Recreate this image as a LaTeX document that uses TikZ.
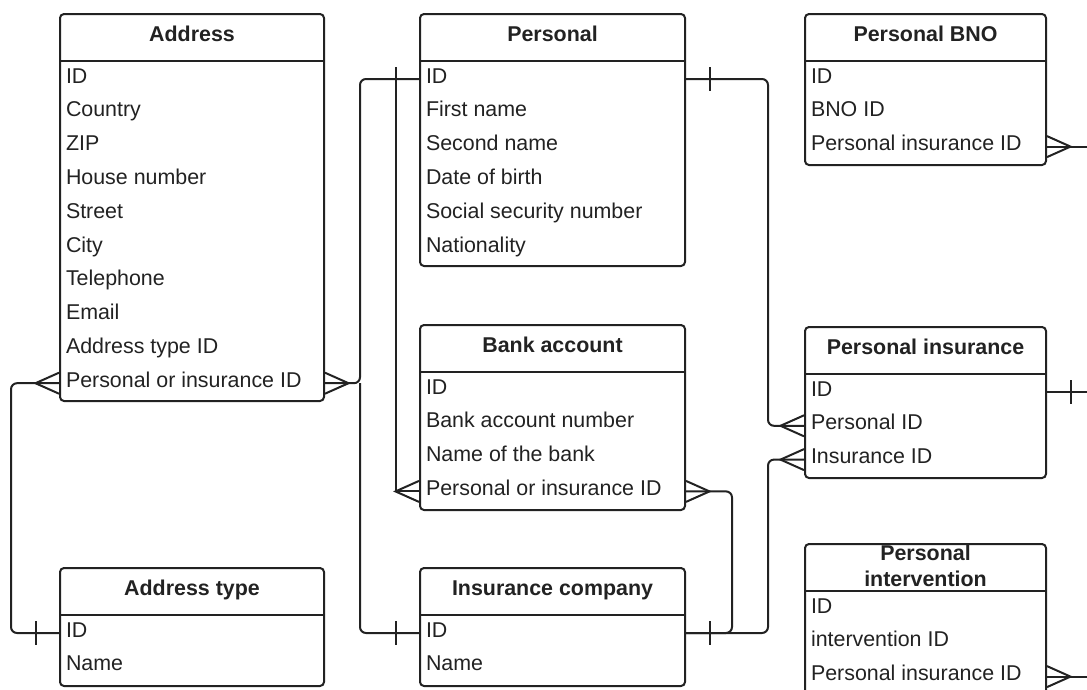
\documentclass[tikz,border=0pt]{standalone}
\usepackage{fontspec}
\setmainfont{Liberation Sans}
\usetikzlibrary{calc}
\definecolor{ink}{HTML}{222222}
\tikzset{
  ebox/.style={draw=ink, line width=2pt, rounded corners=4pt, fill=white, inner sep=0pt},
  divider/.style={draw=ink, line width=2pt},
  etitle/.style={font=\fontsize{21.4pt}{23pt}\selectfont\bfseries, text=ink, inner sep=0pt},
  erow/.style={font=\fontsize{21.4pt}{23pt}\selectfont, text=ink, inner sep=0pt},
  conn/.style={draw=ink, line width=2pt, rounded corners=6pt},
  tipline/.style={draw=ink, line width=2pt, line join=miter},
}
% entity box: #1 name, #2 left, #3 top, #4 width, #5 height
\newcommand\entbox[5]{%
  \node[ebox, minimum width=#4pt, minimum height=#5pt, anchor=north west] (#1) at (#2,#3) {};
  \draw[divider] ([yshift=-48pt]#1.north west) -- ([yshift=-48pt]#1.north east);
}
\newcommand\enttitle[2]{%
  \node[etitle, anchor=base] (#1-title) at ($(#1.north)+(0,28.8)$) {#2};
}
\newcommand\entrows[2]{%
  \foreach \t [count=\i from 0] in {#2} {
    \coordinate (#1-\i) at ($(#1.north west)+(0,48+33.8*\i+18)$);
    \node[erow, anchor=base west] (#1-t\i) at ($(#1.north west)+(6.8,48+33.8*\i+22)$) {\t};
  }
}
% crow's foot: #1 point on box edge, #2 direction (1 right, -1 left)
\newcommand\crowfoot[2]{%
  \draw[tipline] ($#1+(0,-10.5)$) -- ($#1+(#2*23.5,0)$) -- ($#1+(0,10.5)$);
}
% single bar: #1 point on box edge, #2 direction
\newcommand\onebar[2]{%
  \draw[tipline] ($#1+(#2*23.5,-12)$) -- ($#1+(#2*23.5,12)$);
}
\begin{document}
\begin{tikzpicture}[x=1pt,y=-1pt]
\useasboundingbox (0,0) rectangle (1087,689);
\clip (0,0) rectangle (1087,689);

% lanes for connectors
\coordinate (laneA) at (11,0);
\coordinate (laneB) at (360,0);
\coordinate (laneC) at (396,0);
\coordinate (laneE) at (732,0);
\coordinate (laneD) at (768,0);
\coordinate (edge) at (1095,0);

% entities
\entbox{addr}{59}{13}{264}{387}
\enttitle{addr}{Address}
\entrows{addr}{ID,Country,ZIP,House number,Street,City,Telephone,Email,Address type ID,Personal or insurance ID}

\entbox{pers}{419}{13}{265}{252}
\enttitle{pers}{Personal}
\entrows{pers}{ID,First name,Second name,Date of birth,Social security number,Nationality}

\entbox{bno}{804}{13}{241}{151}
\enttitle{bno}{Personal BNO}
\entrows{bno}{ID,BNO ID,Personal insurance ID}

\entbox{bank}{419}{324}{265}{185}
\enttitle{bank}{Bank account}
\entrows{bank}{ID,Bank account number,Name of the bank,Personal or insurance ID}

\entbox{pins}{804}{326}{241}{151}
\enttitle{pins}{Personal insurance}
\entrows{pins}{ID,Personal ID,Insurance ID}

\entbox{pint}{804}{543}{241}{151}
\node[etitle, align=center, anchor=center] (pint-title) at ($(pint.north)+(0,22.5)$) {Personal\\[3pt]intervention};
\entrows{pint}{ID,intervention ID,Personal insurance ID}

\entbox{atype}{59}{567}{264}{118}
\enttitle{atype}{Address type}
\entrows{atype}{ID,Name}

\entbox{insco}{419}{567}{265}{118}
\enttitle{insco}{Insurance company}
\entrows{insco}{ID,Name}

% connectors
\draw[conn] (addr-9) -- (addr-9 -| laneA) |- (atype-0);
\crowfoot{(addr-9)}{-1}
\onebar{(atype-0)}{-1}

\draw[conn] (addr-9 -| addr.east) -- (addr-9 -| laneB) |- (pers-0);
\draw[conn] (addr-9 -| laneB) |- (insco-0);
\crowfoot{(addr-9 -| addr.east)}{1}
\onebar{(pers-0)}{-1}
\onebar{(insco-0)}{-1}

\draw[tipline] (bank-3) -- (bank-3 -| laneC) -- (pers-0 -| laneC);
\crowfoot{(bank-3)}{-1}

\draw[conn] (pers-0 -| pers.east) -- (pers-0 -| laneD) |- (pins-1);
\onebar{(pers-0 -| pers.east)}{1}
\crowfoot{(pins-1)}{-1}

\draw[conn] (insco-0 -| insco.east) -- (insco-0 -| laneD) |- (pins-2);
\onebar{(insco-0 -| insco.east)}{1}
\crowfoot{(pins-2)}{-1}

\draw[conn] (bank-3 -| bank.east) -- (bank-3 -| laneE) |- (insco-0 -| insco.east);
\crowfoot{(bank-3 -| bank.east)}{1}

\draw[conn] (bno-2 -| bno.east) -- (bno-2 -| edge);
\crowfoot{(bno-2 -| bno.east)}{1}

\draw[conn] (pins-0 -| pins.east) -- (pins-0 -| edge);
\onebar{(pins-0 -| pins.east)}{1}

\draw[conn] (pint-2 -| pint.east) -- (pint-2 -| edge);
\crowfoot{(pint-2 -| pint.east)}{1}
\end{tikzpicture}
\end{document}
